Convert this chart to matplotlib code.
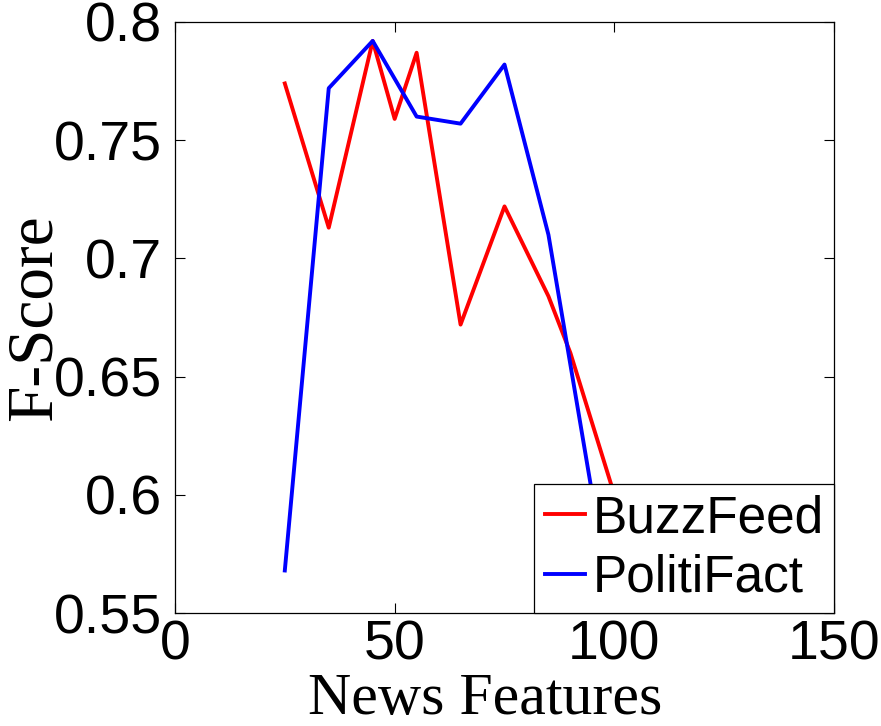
import matplotlib
matplotlib.use("Agg")
import matplotlib.pyplot as plt

# F-score vs number of news features
buzz_x = [25, 35, 45, 50, 55, 65, 75, 85, 90, 100]
buzz_y = [0.774, 0.713, 0.792, 0.759, 0.787, 0.672, 0.722, 0.684, 0.660, 0.600]
poli_x = [25, 35, 45, 55, 65, 75, 85, 95]
poli_y = [0.568, 0.772, 0.792, 0.760, 0.757, 0.782, 0.710, 0.600]

xticks = [0, 50, 100, 150]
yticks = [0.55, 0.6, 0.65, 0.7, 0.75, 0.8]
ytick_labels = ["0.55", "0.6", "0.65", "0.7", "0.75", "0.8"]

fig = plt.figure(figsize=(8.81, 7.26), dpi=100)
ax = fig.add_axes([0.1986, 0.1556, 0.7481, 0.8141])

ax.plot(buzz_x, buzz_y, color="#ff0000", lw=2.8, label="BuzzFeed")
ax.plot(poli_x, poli_y, color="#0000ff", lw=2.8, label="PolitiFact")

ax.set_xlim(0, 150)
ax.set_ylim(0.55, 0.8)
ax.set_xticks(xticks)
ax.set_yticks(yticks)
ax.set_yticklabels(ytick_labels)
ax.tick_params(direction="in", length=7, width=0.8, top=True, right=True,
               labelsize=40, pad=9)
ax.tick_params(axis="x", pad=5)
for lab in ax.get_xticklabels() + ax.get_yticklabels():
    lab.set_family("Liberation Sans")
for sp in ax.spines.values():
    sp.set_linewidth(0.9)

ax.set_xlabel("News Features", family="Liberation Serif", fontsize=43)
ax.set_ylabel("F-Score", family="Liberation Serif", fontsize=47)
ax.xaxis.set_label_coords(0.47, -0.102)
ax.yaxis.set_label_coords(-0.168, 0.5)

leg = ax.legend(loc="lower right", borderaxespad=0, fancybox=False,
                framealpha=1, edgecolor="black",
                prop={"family": "Liberation Sans", "size": 37},
                handlelength=0.78, handletextpad=0.15, borderpad=0.2,
                labelspacing=0.2)
leg.get_frame().set_linewidth(0.9)

fig.savefig("out.png", dpi=100)
